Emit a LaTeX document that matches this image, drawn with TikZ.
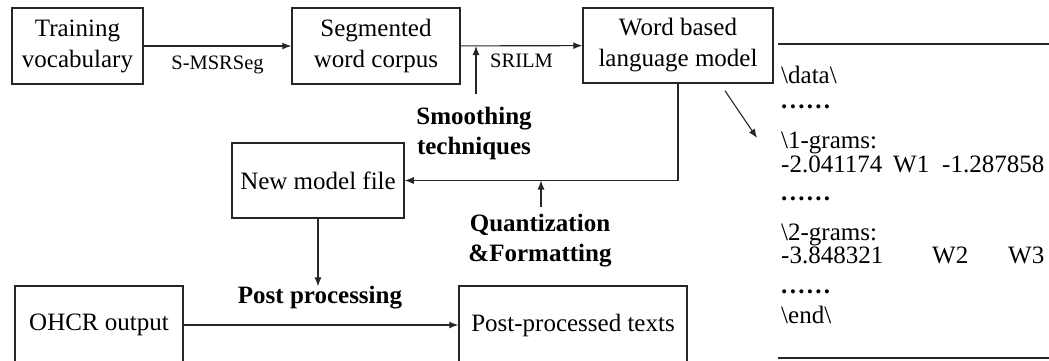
\documentclass[tikz,border=0pt]{standalone}
\usepackage{fontspec}
\setmainfont{Liberation Serif}
\usetikzlibrary{positioning, arrows.meta, calc}
\newcommand{\dotrow}{\textbf{.\kern2.3pt.\kern2.3pt.\kern2.3pt.\kern2.3pt.\kern2.3pt.}}

\begin{document}
\begin{tikzpicture}[x=1pt, y=-1pt,
  box/.style={draw=black!85, line width=1.5pt, inner sep=0pt, align=center, font=\fontsize{25}{31}\selectfont},
  lbl/.style={font=\fontsize{20.5}{24}\selectfont},
  note/.style={font=\fontsize{25}{30}\selectfont\bfseries, align=center, inner sep=0pt},
  flow/.style={-{Latex[length=9pt,width=7pt]}, line width=1.1pt, draw=black!85},
  dataline/.style={anchor=base west, inner sep=0pt, font=\fontsize{25}{27}\selectfont}]
\useasboundingbox (0,0) rectangle (1049,360);
\clip (0,0) rectangle (1049,360);

% processing boxes
\node[box, minimum width=131pt, minimum height=76pt] (vocab) at (77.5,46) {Training\\vocabulary};
\node[box, minimum width=168pt, minimum height=76pt] (corpus) at (376,46) {Segmented\\word corpus};
\node[box, minimum width=190pt, minimum height=75pt] (lm) at (678,45.5) {Word based\\language model};
\node[box, minimum width=172pt, minimum height=75pt] (newmodel) at (318,180.5) {New model file};
\node[box, minimum width=168pt, minimum height=78pt] (ohcr) at (99,325) {OHCR output};
\node[box, minimum width=228pt, minimum height=78pt] (post) at (573,325) {Post-processed texts};

% bold notes
\node[note] (smooth) at (474,133) {Smoothing\\techniques};
\node[note] (quant) at (540,241) {Quantization\\\&Formatting};
\node[note] (pproc) at (320,298) {Post processing};

% connectors
\draw[flow] (vocab) -- node[lbl, below=6pt] {S-MSRSeg} (corpus);
\draw[flow] (corpus) -- node[lbl, below=4pt] {SRILM} (lm);
\draw[flow] ([xshift=2pt, yshift=12pt]smooth.north) -- ([xshift=2pt]smooth.north |- corpus.east);
\draw[flow] (lm.south) |- (newmodel.east);
\draw[flow] ([xshift=1pt, yshift=7pt]quant.north) -- ([xshift=1pt]quant.north |- newmodel.east);
\draw[flow] (newmodel.south) -- (newmodel.south |- pproc.north);
\draw[flow] (ohcr) -- (post);
\coordinate (dtip) at (757,138);
\draw[flow] ([xshift=47pt, yshift=-7pt]lm.south) -- (dtip);

% model file excerpt
\coordinate (dtop) at (778,44);
\coordinate (dbot) at (778,358);
\draw[line width=1.3pt, black!85] (dtop) -- (dtop -| 1049,0);
\draw[line width=2pt, black!85] (dbot) -- (dbot -| 1049,0);
\node[dataline] (d1) at (781,83) {\textbackslash data\textbackslash};
\node[dataline] (d2) at (781,108) {\dotrow};
\node[dataline] (d3) at (781,148) {\textbackslash 1-grams:};
\node[dataline] (d4a) at (781,172) {-2.041174};
\node[dataline] (d4b) at (893,172) {W1};
\node[dataline] (d4c) at (942,172) {-1.287858};
\node[dataline] (d5) at (781,200) {\dotrow};
\node[dataline] (d6) at (781,240) {\textbackslash 2-grams:};
\node[dataline] (d7a) at (781,263) {-3.848321};
\node[dataline] (d7b) at (932,263) {W2};
\node[dataline] (d7c) at (1008,263) {W3};
\node[dataline] (d8) at (781,293) {\dotrow};
\node[dataline] (d9) at (781,323) {\textbackslash end\textbackslash};
\end{tikzpicture}
\end{document}
